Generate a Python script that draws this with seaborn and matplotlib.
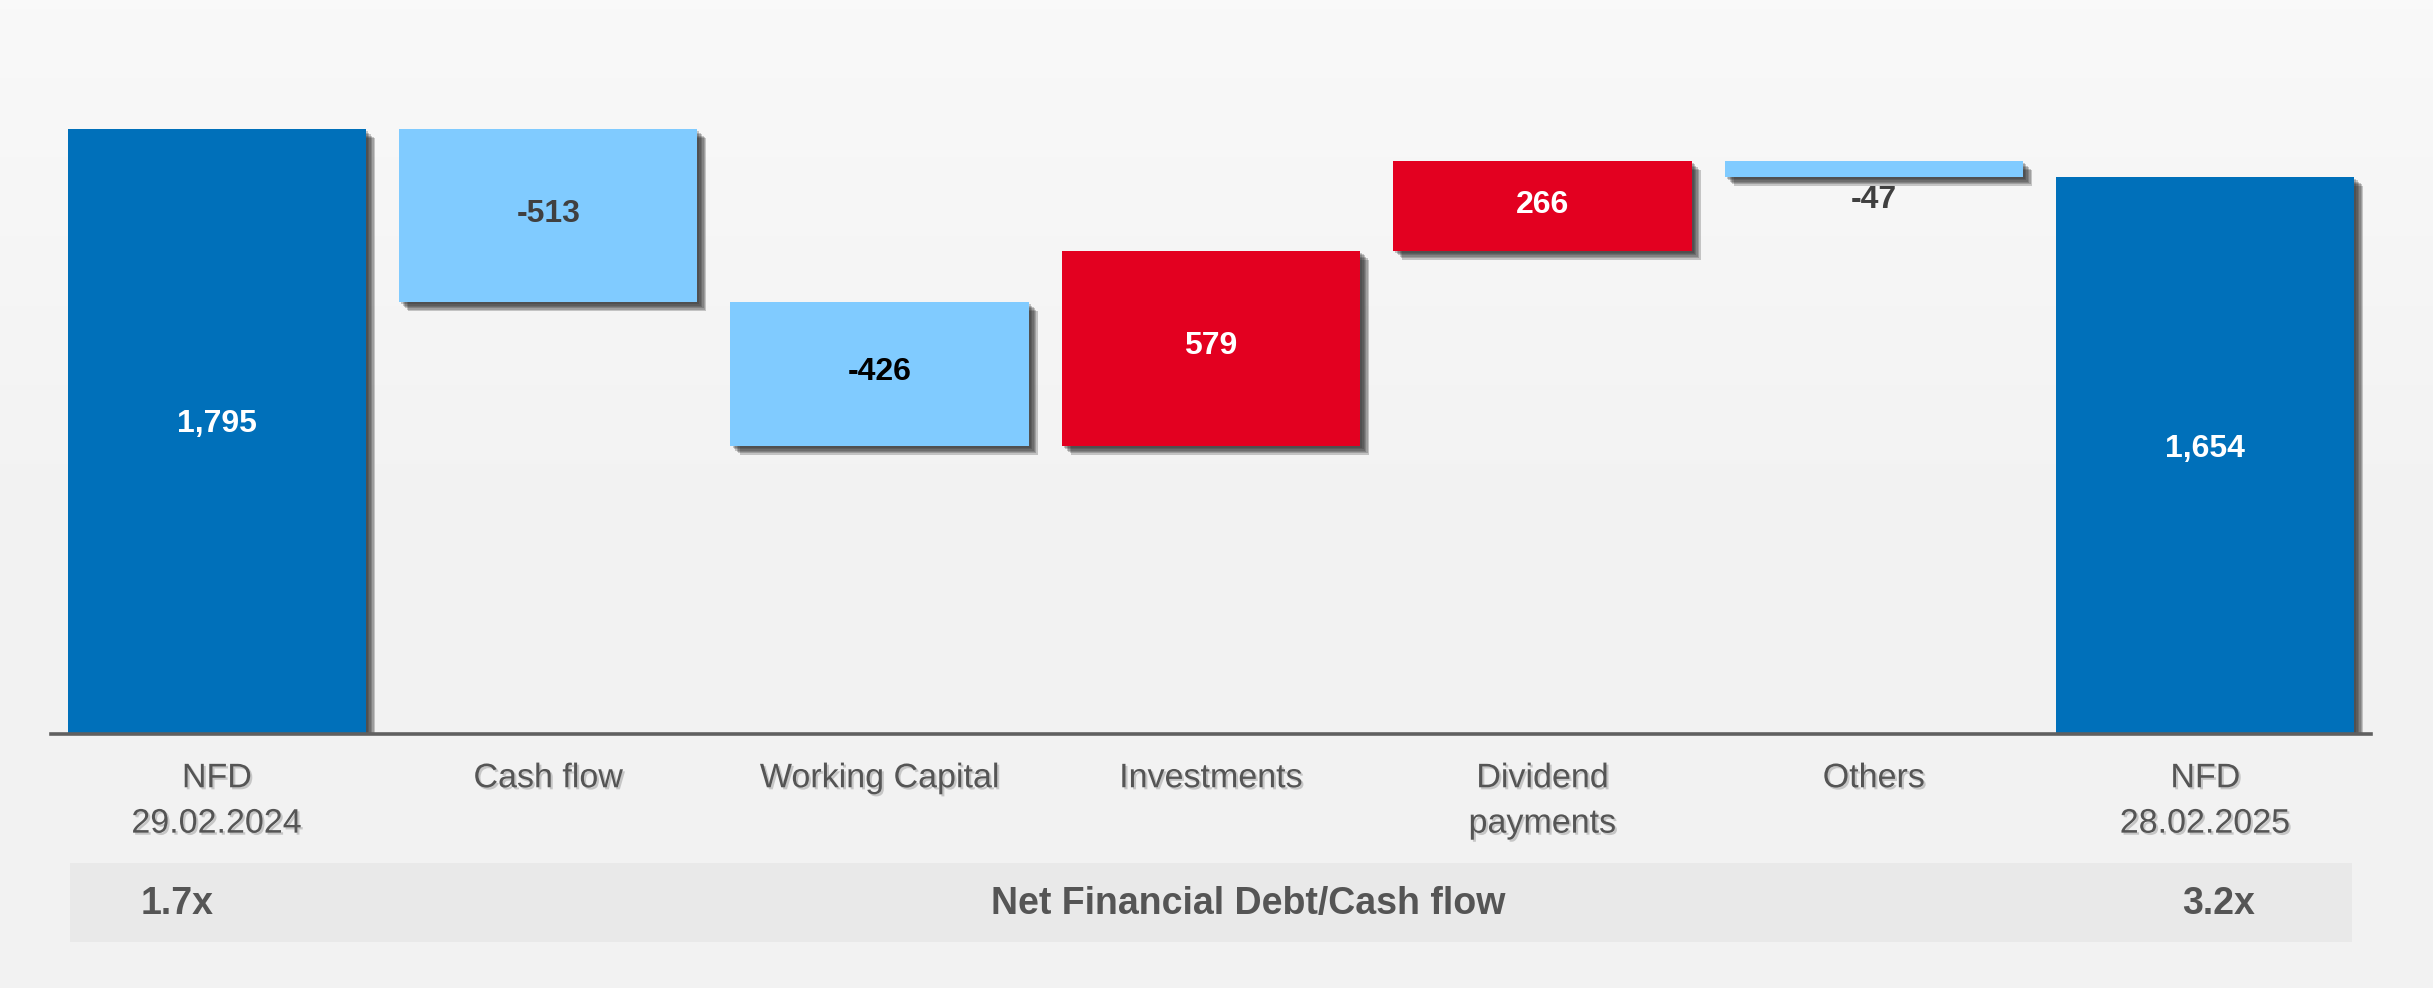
import matplotlib
matplotlib.use("Agg")
import matplotlib.pyplot as plt
import matplotlib.patheffects as pe
from matplotlib.patches import Rectangle
import numpy as np
import pandas as pd
import seaborn as sns

# data
categories = ["NFD\n29.02.2024", "Cash flow", "Working Capital", "Investments",
              "Dividend\npayments", "Others", "NFD\n28.02.2025"]
changes = [1795, -513, -426, 579, 266, -47, 1654]
kinds = ["total", "decrease", "decrease", "increase", "increase", "decrease", "total"]
value_labels = ["1,795", "-513", "-426", "579", "266", "-47", "1,654"]
label_colors = ["white", "#404040", "black", "white", "white", "#404040", "white"]
ratio_start = "1.7x"
ratio_end = "3.2x"
ratio_title = "Net Financial Debt/Cash flow"

kind_colors = {"total": "#0070BA", "decrease": "#80CBFF", "increase": "#E30020"}

# waterfall geometry from the changes
bottoms, heights = [], []
level = 0
for c, k in zip(changes, kinds):
    if k == "total":
        bottoms.append(0)
        heights.append(c)
        level = c
    else:
        new = level + c
        bottoms.append(min(level, new))
        heights.append(abs(c))
        level = new

df = pd.DataFrame({"cat": categories, "height": heights})

sns.set_style("white")
FONT = ["Liberation Sans Narrow", "Liberation Sans", "DejaVu Sans"]
plt.rcParams["font.family"] = FONT

fig = plt.figure(figsize=(24.33, 9.88), dpi=100)

# background gradient + ratio band
bg = fig.add_axes([0, 0, 1, 1], zorder=0)
grad = np.concatenate([np.linspace(249, 242, 55), np.full(45, 242)]).reshape(-1, 1) / 255
bg.imshow(np.repeat(grad, 3, axis=1).reshape(-1, 1, 3), extent=[0, 1, 0, 1],
          aspect="auto", origin="upper")
bg.add_patch(Rectangle((0.0288, 0.0466), 0.938, 0.08, color="#e9e9e9", lw=0))
bg.set_xlim(0, 1)
bg.set_ylim(0, 1)
bg.axis("off")

ax = fig.add_axes([0.021, 0.257, 0.9535, 0.682], zorder=1)
ax.patch.set_alpha(0)
sns.barplot(data=df, x="cat", y="height", width=0.9, color="#0070BA", ax=ax,
            saturation=1)

# soft drop shadow: stacked offsets
shadow = [pe.SimplePatchShadow(offset=(o, -o), shadow_rgbFace="#2a2a2a", alpha=0.24)
          for o in [1.5, 2.5, 3.5, 4.5, 5.5, 6.5]] + [pe.Normal()]
for patch, b, h, k in zip(ax.patches, bottoms, heights, kinds):
    patch.set_y(b)
    patch.set_height(h)
    patch.set_facecolor(kind_colors[k])
    patch.set_edgecolor("none")
    patch.set_path_effects(shadow)

for i, (b, h, lab, col) in enumerate(zip(bottoms, heights, value_labels, label_colors)):
    if h < 100:
        ax.text(i, b - 25, lab, ha="center", va="top", fontsize=23,
                fontweight="bold", color=col)
    else:
        ax.text(i, b + h / 2 + h * 0.012, lab, ha="center", va="center", fontsize=23,
                fontweight="bold", color=col)

ax.set_ylim(0, 2000)
ax.set_xlim(-0.5, 6.5)
ax.set_xlabel("")
ax.set_ylabel("")
ax.set_yticks([])
for s in ["top", "right", "left"]:
    ax.spines[s].set_visible(False)
ax.spines["bottom"].set_color("#606060")
ax.spines["bottom"].set_linewidth(2.6)
ax.spines["bottom"].set_path_effects(
    [pe.SimplePatchShadow(offset=(2, -2), shadow_rgbFace="#888888", alpha=0.5), pe.Normal()])
ax.tick_params(axis="x", length=0, pad=21)
txt_shadow = [pe.withSimplePatchShadow(offset=(1.5, -1.5), shadow_rgbFace="#aaaaaa", alpha=0.6)]
for t in ax.get_xticklabels():
    t.set_fontsize(24.5)
    t.set_color("#555555")
    t.set_linespacing(1.6)
    t.set_path_effects(txt_shadow)

for x, s in [(0.073, ratio_start), (0.513, ratio_title), (0.912, ratio_end)]:
    fig.text(x, 0.085, s, ha="center", va="center", fontsize=27,
             fontweight="bold", color="#555555")

fig.savefig("out.png", dpi=100)
